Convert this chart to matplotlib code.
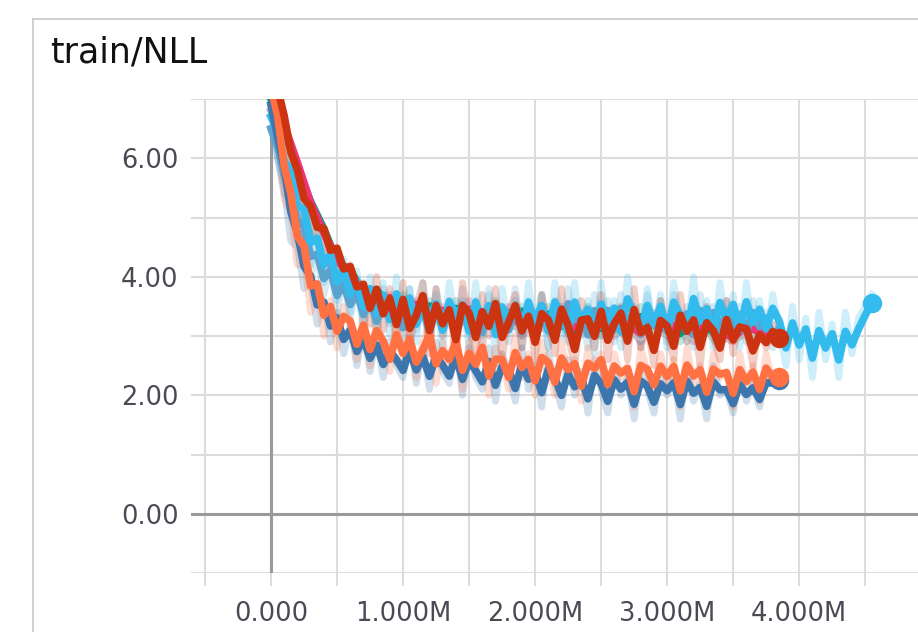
import numpy as np
import matplotlib
matplotlib.use('Agg')
import matplotlib.pyplot as plt
from matplotlib.lines import Line2D
from matplotlib.ticker import MultipleLocator, FuncFormatter

# -------------------------------------------------------
# dados (valores brutos)
# -------------------------------------------------------

titulo = "train/NLL"

# logados a cada 0.05M
red_raw = [
    7.6, 6.9, 6.4, 5.7, 5.6, 5.0, 5.1, 4.6, 4.8, 4.2,
    4.5, 3.9, 4.2, 3.6, 3.9, 3.2, 4.0, 3.1, 3.8, 2.9,
    3.9, 2.8, 3.5, 3.9, 2.7, 3.8, 3.0, 3.6, 2.6, 3.9,
    3.3, 2.7, 3.7, 3.0, 3.8, 2.6, 3.4, 3.7, 2.8, 3.5,
    2.6, 3.7, 3.2, 2.7, 3.8, 3.0, 2.5, 3.6, 3.3, 2.8,
    3.7, 2.6, 3.4, 3.5, 2.6, 3.8, 2.8, 3.2, 2.5, 3.6,
    3.1, 2.6, 3.7, 2.9, 3.4, 2.5, 3.5, 3.0, 2.6, 3.6,
    2.7, 3.3, 3.1, 2.5, 3.2, 2.8, 3.2, 2.9]

orange_raw = [
    7.2, 6.4, 5.3, 5.1, 4.2, 4.4, 3.4, 3.9, 3.0, 3.6,
    2.8, 3.5, 3.2, 2.6, 3.4, 2.5, 3.3, 2.8, 2.4, 3.3,
    2.5, 3.1, 2.3, 2.9, 3.2, 2.2, 2.9, 2.5, 3.1, 2.1,
    2.9, 2.4, 3.0, 2.0, 2.8, 2.6, 2.1, 3.0, 2.3, 2.7,
    2.0, 2.9, 2.5, 2.0, 2.9, 2.3, 2.6, 1.9, 2.8, 2.4,
    2.7, 1.9, 2.7, 2.3, 2.5, 1.8, 2.8, 2.4, 2.0, 2.7,
    2.2, 2.6, 1.8, 2.8, 2.2, 2.5, 1.8, 2.7, 2.3, 2.4,
    1.8, 2.7, 2.1, 2.5, 1.9, 2.7, 2.2, 2.3]

dblue_raw = [
    6.9, 6.0, 5.5, 4.6, 4.5, 3.8, 3.9, 3.2, 3.6, 2.9,
    3.4, 2.7, 3.2, 2.5, 3.1, 2.4, 3.0, 2.3, 2.9, 2.5,
    2.3, 3.0, 2.2, 2.8, 2.1, 2.9, 2.4, 2.2, 2.9, 2.0,
    2.8, 2.3, 2.1, 2.8, 1.9, 2.7, 2.4, 1.9, 2.8, 2.1,
    2.5, 1.8, 2.7, 2.2, 1.8, 2.6, 2.0, 2.4, 1.7, 2.6,
    2.1, 1.7, 2.5, 2.0, 2.3, 1.6, 2.5, 2.1, 1.7, 2.4,
    2.0, 2.3, 1.6, 2.5, 1.9, 2.2, 1.6, 2.5, 2.0, 2.1,
    1.7, 2.4, 1.9, 2.2, 1.8, 2.4, 2.2, 2.3]

lblue_raw = [
    6.7, 6.3, 5.6, 5.7, 4.8, 5.1, 4.2, 4.7, 3.9, 4.5,
    3.6, 4.3, 3.4, 4.1, 3.2, 4.0, 3.1, 3.9, 3.0, 4.0,
    3.2, 3.8, 2.9, 3.9, 3.1, 3.7, 2.8, 3.9, 3.2, 3.6,
    2.8, 3.9, 3.0, 3.7, 2.7, 3.8, 3.2, 3.6, 2.8, 3.9,
    3.0, 3.7, 2.8, 3.9, 3.2, 2.9, 3.9, 3.0, 3.6, 2.7,
    3.9, 3.1, 3.6, 2.8, 4.0, 3.2, 2.9, 3.8, 3.0, 3.7,
    2.8, 3.9, 3.2, 2.9, 4.0, 3.0, 3.6, 2.8, 3.9, 3.1,
    3.7, 2.8, 3.9, 3.0, 3.6, 2.9, 3.7, 3.1, 2.5, 3.5,
    2.6, 3.3, 2.3, 3.4, 2.6, 3.2, 2.3, 3.4, 2.7, 3.3,
    3.5, 3.7]

steel_raw = [
    6.5, 6.0, 5.4, 5.3, 4.6, 4.8, 4.0, 4.4, 3.7, 4.2,
    3.4, 4.0, 3.3, 3.9, 3.1, 3.8, 3.0, 3.8, 3.2, 3.6,
    2.9, 3.8, 3.1, 3.6, 2.8, 3.8, 3.2, 3.5, 2.9, 3.8,
    3.0, 3.6, 2.8, 3.8, 3.1, 3.5, 2.9, 3.8, 3.0, 3.6,
    3.1, 3.7, 2.8, 3.6, 3.0, 3.8, 3.1, 3.4, 2.8, 3.7,
    3.0, 3.6, 2.9, 3.7, 3.1, 3.5, 2.8, 3.7, 3.0, 3.6,
    2.9, 3.7, 3.0, 3.5, 2.8, 3.7, 3.1, 3.5, 2.9, 3.6,
    3.0, 3.5, 2.9, 3.6, 3.0, 3.4, 2.8, 3.2]

# estas tres foram logadas a cada 0.1M
teal_raw = [
    7.0, 6.1, 5.4, 4.9, 4.5, 3.9, 4.0, 3.5, 3.8, 3.3,
    3.7, 3.2, 3.6, 3.1, 3.6, 3.3, 3.1, 3.6, 3.2, 3.5,
    3.0, 3.5, 3.2, 2.9, 3.5, 3.0, 3.4, 2.9, 3.5, 3.1,
    3.3, 2.9, 3.4, 3.1, 2.8, 3.4, 3.0, 3.2, 3.0]

mag_raw = [
    7.1, 6.2, 5.5, 4.8, 4.4, 4.0, 3.8, 3.7, 3.4, 3.7,
    3.3, 3.6, 3.2, 3.5, 3.1, 3.6, 3.2, 3.2, 3.5, 3.0,
    3.4, 3.1, 3.5, 3.0, 3.2, 3.4, 3.0, 3.3, 2.9, 3.4,
    3.0, 3.3, 2.9, 3.3, 3.0, 2.9, 3.3, 3.0, 3.0]

gray_raw = [
    6.8, 6.0, 5.1, 4.6, 4.2, 3.9, 3.7, 3.5, 3.4, 3.5,
    3.3, 3.4, 3.2, 3.3, 3.1, 3.4, 3.2, 3.1, 3.3, 3.0,
    3.2, 3.1, 3.3, 3.0, 3.1, 3.2, 3.0, 3.1, 2.9, 3.2,
    3.0, 3.1, 2.9, 3.1, 3.0, 2.9, 3.1, 3.0, 3.0]

x_ticks_M = [0, 1, 2, 3, 4]
y_ticks = [0, 2, 4, 6]

# (valores, cor, passo de log, ponto no fim) - ordem de desenho
runs = [
    (gray_raw,   '#bbbbbb', 100000, False),
    (teal_raw,   '#009988', 100000, False),
    (mag_raw,    '#ee3377', 100000, False),
    (steel_raw,  '#5ba3cf', 50000,  False),
    (lblue_raw,  '#33bbee', 50000,  True),
    (dblue_raw,  '#3d76ad', 50000,  True),
    (orange_raw, '#ff7043', 50000,  True),
    (red_raw,    '#cc3311', 50000,  True),
]


def suavizar(vals, w=0.4):
    # media movel exponencial, igual ao slider do tensorboard
    out = []
    ult = vals[0]
    for v in vals:
        ult = ult * w + (1 - w) * v
        out.append(ult)
    return out


fig = plt.figure(figsize=(9.18, 6.32), dpi=100)
W, H = 918, 632
ax = fig.add_axes([191 / W, 1 - 573 / H, 1 - 191 / W, (573 - 99) / H])

# linhas brutas (claras) por baixo
for vals, cor, passo, _ in runs:
    x = np.arange(len(vals)) * passo
    ax.plot(x, vals, color=cor, alpha=0.24, lw=5, zorder=2)

# linhas suavizadas por cima
for vals, cor, passo, ponto in runs:
    x = np.arange(len(vals)) * passo
    s = suavizar(vals)
    ax.plot(x, s, color=cor, lw=5.5, zorder=3)
    if ponto:
        ax.plot(x[-1], s[-1], 'o', color=cor, ms=13, zorder=4)

ax.set_xlim(-0.606e6, 4.90e6)
ax.set_ylim(-1, 7)

ax.xaxis.set_major_locator(plt.FixedLocator([v * 1e6 for v in x_ticks_M]))
ax.xaxis.set_minor_locator(MultipleLocator(0.5e6))
ax.xaxis.set_major_formatter(FuncFormatter(
    lambda v, _: "0.000" if abs(v) < 1 else f"{v / 1e6:.3f}M"))
ax.yaxis.set_major_locator(plt.FixedLocator(y_ticks))
ax.yaxis.set_minor_locator(MultipleLocator(1))
ax.yaxis.set_major_formatter(FuncFormatter(lambda v, _: f"{v:.2f}"))

ax.grid(True, which='both', color='#dcdcdc', lw=1.5, zorder=0)
ax.set_axisbelow(True)
for s in ax.spines.values():
    s.set_visible(False)

ax.axhline(0, color='#9a9a9a', lw=2.2, zorder=1)
ax.axvline(0, color='#9a9a9a', lw=2.2, zorder=1)

ax.tick_params(axis='x', which='both', length=9.5, width=1.4, color='#dcdcdc',
               labelsize=18.5, labelcolor='#4a4a55', pad=11)
ax.tick_params(axis='y', which='both', length=0, labelsize=18.5,
               labelcolor='#4a4a55', pad=9)

# moldura do cartao
fig.add_artist(Line2D([33 / W, 1], [1 - 19 / H, 1 - 19 / H], color='#c8c8c8', lw=1.2))
fig.add_artist(Line2D([33 / W, 33 / W], [0, 1 - 19 / H], color='#c8c8c8', lw=1.2))

fig.text(50 / W, 1 - 63 / H, titulo, fontsize=25, color='#111111',
         ha='left', va='baseline')

fig.savefig('out.png', dpi=100)
plt.close(fig)
